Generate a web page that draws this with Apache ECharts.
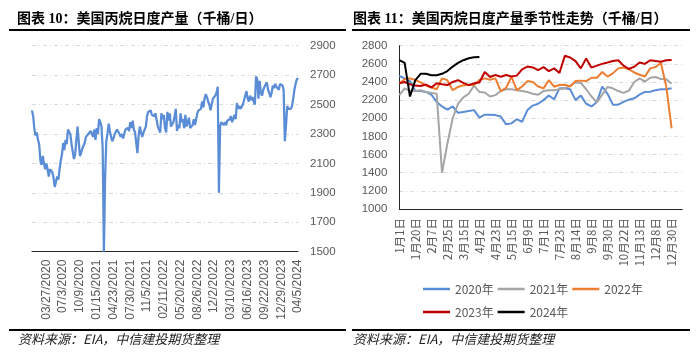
<!DOCTYPE html>
<html><head><meta charset="utf-8">
<script src="https://cdn.jsdelivr.net/npm/echarts@6/dist/echarts.min.js"></script>
<style>html,body{margin:0;padding:0;background:#fff}#c{width:700px;height:360px}</style>
</head><body><div id="c"></div>
<script>
// ---------- Left chart data (weekly, from 01/03/2020) ----------
const leftStartDate = '2020-01-03';
const leftTickLabels = ['03/27/2020','07/3/2020','10/9/2020','01/15/2021','04/23/2021','07/30/2021','11/5/2021','02/11/2022','05/20/2022','08/26/2022','12/2/2022','03/10/2023','06/16/2023','09/22/2023','12/29/2023','04/5/2024'];
const leftYTicks = [1500, 2900, 200];
const leftValues = [
2460,2420,2330,2290,2310,2260,2230,2120,2090,2150,2100,2060,2100,
2060,2010,2060,2050,2040,2000,1940,1950,2010,1990,2060,2120,2160,
2240,2190,2260,2230,2330,2330,2300,2230,2180,2130,2160,2260,2350,
2250,2150,2170,2200,2210,2240,2280,2290,2300,2310,2320,2310,2280,
2330,2260,2340,2300,2400,2380,2350,2200,1500,2000,2250,2300,2370,
2320,2280,2250,2270,2300,2310,2330,2320,2300,2280,2300,2270,2300,
2330,2320,2340,2320,2380,2340,2390,2330,2310,2240,2170,2290,2350,
2310,2280,2310,2300,2350,2420,2450,2440,2460,2430,2440,2420,2440,
2430,2350,2330,2310,2440,2400,2430,2340,2310,2450,2390,2440,2350,
2340,2380,2420,2470,2320,2360,2340,2440,2380,2400,2340,2430,2350,
2360,2410,2340,2350,2360,2400,2360,2400,2440,2460,2450,2470,2520,
2480,2540,2570,2550,2520,2500,2460,2470,2540,2550,2560,2580,2620,
1900,2350,2380,2390,2360,2380,2360,2390,2380,2400,2420,2380,2390,
2430,2400,2510,2470,2490,2470,2480,2500,2530,2560,2590,2540,2520,
2560,2530,2550,2520,2500,2690,2670,2540,2660,2580,2560,2600,2620,
2630,2650,2600,2580,2550,2580,2630,2610,2640,2620,2620,2600,2640,
2640,2630,2600,2250,2360,2490,2470,2480,2470,2490,2540,2600,2640,
2670,2680];

// ---------- Right chart data (seasonal, weekly) ----------
const rightTickLabels = ['1月1日','1月20日','2月7日','2月25日','3月15日','4月2日','4月23日','5月15日','6月9日','7月1日','7月23日','8月14日','9月8日','9月30日','10月22日','11月13日','12月8日','12月30日'];
const rightWeekCount = 54;
const rightYTicks = [1000, 2800, 200];
const seriesNames = ['2020年','2021年','2022年','2023年','2024年'];
const y2020 = [2466,2440,2410,2300,2300,2290,2260,2180,2130,2095,2130,2060,2070,2080,2090,2007,2040,2040,2035,2020,1933,1944,1990,1960,2090,2140,2160,2200,2250,2210,2330,2330,2320,2200,2250,2160,2130,2180,2350,2270,2150,2150,2180,2205,2220,2260,2290,2293,2310,2320,2319,2330];
const y2021 = [2256,2330,2300,2300,2310,2290,2280,2270,1400,1720,2000,2160,2230,2270,2360,2290,2285,2240,2255,2300,2320,2320,2310,2300,2290,2270,2260,2300,2310,2310,2320,2330,2360,2395,2390,2320,2240,2175,2260,2345,2330,2300,2280,2305,2400,2440,2405,2447,2455,2432,2430,2380];
const y2022 = [2385,2430,2440,2422,2395,2360,2340,2320,2440,2420,2310,2345,2365,2366,2366,2422,2440,2425,2440,2300,2335,2458,2311,2350,2410,2400,2350,2330,2420,2348,2366,2370,2350,2410,2415,2410,2447,2447,2510,2460,2495,2550,2560,2540,2505,2480,2460,2550,2565,2610,2350,1890];
const y2023 = [2385,2400,2375,2360,2355,2372,2340,2385,2375,2366,2400,2420,2390,2366,2385,2395,2510,2455,2477,2458,2477,2460,2470,2540,2570,2560,2530,2565,2520,2550,2500,2690,2670,2630,2550,2660,2558,2580,2600,2615,2632,2640,2580,2545,2568,2615,2600,2640,2632,2624,2640,2642];
const y2024 = [2640,2610,2240,2420,2490,2490,2475,2475,2490,2520,2570,2610,2640,2662,2672,2675];
const seriesColors = ['#5B8DD6','#A5A5A5','#ED7D31','#C00000','#000000'];

// ---------- build categories ----------
function fmtDate(d){
  const m = d.getUTCMonth()+1, day = d.getUTCDate();
  return (m<10?'0'+m:''+m) + '/' + day + '/' + d.getUTCFullYear();
}
const leftCats = [];
const t0 = Date.parse(leftStartDate + 'T00:00:00Z');
for (let i = 0; i < leftValues.length; i++) leftCats.push(fmtDate(new Date(t0 + i*7*86400000)));
const rightCats = [];
for (let i = 0; i < rightWeekCount; i++) rightCats.push('w' + i);

const LBL = '#595959';
const SANS = '"Liberation Sans", Arial, sans-serif';
const CJK = '"Noto Sans CJK SC", "Liberation Sans", sans-serif';
const gridDash = {show:true, lineStyle:{color:'#D9D9D9', width:1, type:[4,3,1,3]}};
const plain = (v)=> String(v);

const chart = echarts.init(document.getElementById('c'), null, {renderer:'canvas'});
chart.setOption({
  animation:false,
  backgroundColor:'#fff',
  grid:[
    {left:32, right:402, top:45.6, bottom:108.3, containLabel:false},
    {left:399.3, right:17.7, top:45.7, bottom:151, containLabel:false}
  ],
  xAxis:[
    {type:'category', gridIndex:0, data:leftCats, boundaryGap:false,
     axisLine:{show:true, lineStyle:{color:'#262626', width:1}},
     axisTick:{show:false},
     axisLabel:{rotate:90, margin:8, fontSize:12, color:LBL, fontFamily:SANS,
       interval:(idx)=> idx>=12 && (idx-12)%14===0,
       formatter:(v, idx)=> leftTickLabels[(idx-12)/14] || v},
     splitLine:{show:false}},
    {type:'category', gridIndex:1, data:rightCats, boundaryGap:false,
     axisLine:{show:true, lineStyle:{color:'#262626', width:1}},
     axisTick:{show:false},
     axisLabel:{rotate:90, margin:9, fontSize:11.5, color:LBL, fontFamily:CJK,
       interval:2,
       formatter:(v, idx)=> rightTickLabels[idx/3] || ''},
     splitLine:{show:false}}
  ],
  yAxis:[
    {type:'value', gridIndex:0, position:'right', min:leftYTicks[0], max:leftYTicks[1], interval:leftYTicks[2],
     axisLine:{show:false}, axisTick:{show:false},
     axisLabel:{margin:12, fontSize:11.5, color:LBL, fontFamily:SANS, formatter:plain},
     splitLine:gridDash},
    {type:'value', gridIndex:1, position:'left', min:rightYTicks[0], max:rightYTicks[1], interval:rightYTicks[2],
     axisLine:{show:true, lineStyle:{color:'#262626', width:1}}, axisTick:{show:false},
     axisLabel:{margin:12, fontSize:11.5, color:LBL, fontFamily:SANS, formatter:plain},
     splitLine:gridDash}
  ],
  legend:[
    {data:seriesNames.slice(0,3), left:418, top:278, icon:'rect', itemWidth:27, itemHeight:2.5, itemGap:4,
     textStyle:{fontSize:12, color:LBL, fontFamily:CJK}},
    {data:seriesNames.slice(3), left:418, top:301, icon:'rect', itemWidth:27, itemHeight:2.5, itemGap:4,
     textStyle:{fontSize:12, color:LBL, fontFamily:CJK}}
  ],
  series:[
    {type:'line', name:'丙烷日度产量', xAxisIndex:0, yAxisIndex:0, data:leftValues, showSymbol:false,
     lineStyle:{color:seriesColors[0], width:2.25}, itemStyle:{color:seriesColors[0]}},
  ].concat([y2020,y2021,y2022,y2023,y2024].map((d,i)=>({
     type:'line', name:seriesNames[i], xAxisIndex:1, yAxisIndex:1, data:d, showSymbol:false,
     lineStyle:{color:seriesColors[i], width:2}, itemStyle:{color:seriesColors[i]}}))),
  graphic:[
    {type:'text', left:17, top:12, style:{text:'图表 10：美国丙烷日度产量（千桶/日）', font:'bold 14px "Liberation Serif", "Noto Sans CJK SC", serif', fill:'#000'}},
    {type:'text', left:353, top:12, style:{text:'图表 11：美国丙烷日度产量季节性走势（千桶/日）', font:'bold 14px "Liberation Serif", "Noto Sans CJK SC", serif', fill:'#000'}},
    {type:'rect', shape:{x:9, y:29, width:337, height:2}, style:{fill:'#000'}},
    {type:'rect', shape:{x:352, y:29, width:338, height:2}, style:{fill:'#000'}},
    {type:'rect', shape:{x:9, y:329, width:337, height:2}, style:{fill:'#000'}},
    {type:'rect', shape:{x:352, y:329, width:338, height:2}, style:{fill:'#000'}},
    {type:'text', left:18, top:333, style:{text:'资料来源：EIA，中信建投期货整理', font:'italic 13px "Noto Sans CJK SC", sans-serif', fill:'#222'}},
    {type:'text', left:353, top:333, style:{text:'资料来源：EIA，中信建投期货整理', font:'italic 13px "Noto Sans CJK SC", sans-serif', fill:'#222'}}
  ]
});
</script></body></html>
